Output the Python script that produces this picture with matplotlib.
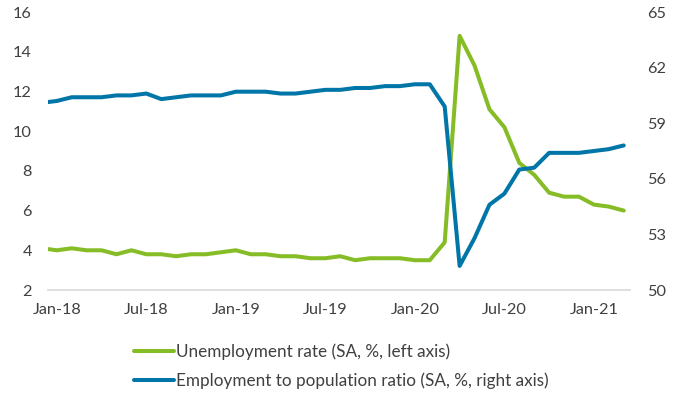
import matplotlib
matplotlib.use("Agg")
import matplotlib.pyplot as plt

months = ["Dec-17",
          "Jan-18", "Feb-18", "Mar-18", "Apr-18", "May-18", "Jun-18", "Jul-18", "Aug-18", "Sep-18", "Oct-18", "Nov-18", "Dec-18",
          "Jan-19", "Feb-19", "Mar-19", "Apr-19", "May-19", "Jun-19", "Jul-19", "Aug-19", "Sep-19", "Oct-19", "Nov-19", "Dec-19",
          "Jan-20", "Feb-20", "Mar-20", "Apr-20", "May-20", "Jun-20", "Jul-20", "Aug-20", "Sep-20", "Oct-20", "Nov-20", "Dec-20",
          "Jan-21", "Feb-21", "Mar-21"]

unemployment = [4.1,
                4.0, 4.1, 4.0, 4.0, 3.8, 4.0, 3.8, 3.8, 3.7, 3.8, 3.8, 3.9,
                4.0, 3.8, 3.8, 3.7, 3.7, 3.6, 3.6, 3.7, 3.5, 3.6, 3.6, 3.6,
                3.5, 3.5, 4.4, 14.8, 13.3, 11.1, 10.2, 8.4, 7.8, 6.9, 6.7, 6.7,
                6.3, 6.2, 6.0]

emp_pop = [60.1,
           60.2, 60.4, 60.4, 60.4, 60.5, 60.5, 60.6, 60.3, 60.4, 60.5, 60.5, 60.5,
           60.7, 60.7, 60.7, 60.6, 60.6, 60.7, 60.8, 60.8, 60.9, 60.9, 61.0, 61.0,
           61.1, 61.1, 59.9, 51.3, 52.8, 54.6, 55.2, 56.5, 56.6, 57.4, 57.4, 57.4,
           57.5, 57.6, 57.8]

tick_labels = ["Jan-18", "Jul-18", "Jan-19", "Jul-19", "Jan-20", "Jul-20", "Jan-21"]
left_ticks = [2, 4, 6, 8, 10, 12, 14, 16]
right_ticks = [50, 53, 56, 59, 62, 65]

label_unemp = "Unemployment rate (SA, %, left axis)"
label_emp = "Employment to population ratio (SA, %, right axis)"

GREEN = "#86BC25"
BLUE = "#0076A8"
TEXT = "#404040"
FONT = "Lato"
FS = 11.7
LFS = 12.3

plt.rcParams["font.family"] = [FONT, "DejaVu Sans"]

W, H = 684, 395
fig = plt.figure(figsize=(W / 100, H / 100), dpi=100)
ax = fig.add_axes([48 / W, 1 - 290 / H, (630 - 48) / W, (290 - 12) / H])
ax2 = ax.twinx()

x = list(range(-1, len(months) - 1))  # Jan-18 -> 0

l1, = ax.plot(x, unemployment, color=GREEN, lw=2.9, solid_capstyle="round",
              solid_joinstyle="round", label=label_unemp, zorder=3)
l2, = ax2.plot(x, emp_pop, color=BLUE, lw=2.9, solid_capstyle="round",
               solid_joinstyle="round", label=label_emp, zorder=3)

ax.set_xlim(-0.59, 38.42)
ax.set_ylim(2, 16)
ax2.set_ylim(50, 65)

tick_pos = [months.index(t) - 1 for t in tick_labels]
ax.set_xticks(tick_pos)
ax.set_xticklabels(tick_labels)
ax.set_yticks(left_ticks)
ax2.set_yticks(right_ticks)

for a in (ax, ax2):
    for s in a.spines.values():
        s.set_visible(False)
    a.tick_params(length=0, labelsize=FS, labelcolor=TEXT)
ax.spines["bottom"].set_visible(True)
ax.spines["bottom"].set_color("#D9D9D9")
ax.spines["bottom"].set_linewidth(1.2)
ax.tick_params(axis="y", pad=11.5)
ax.tick_params(axis="x", pad=9)
ax2.tick_params(axis="y", pad=12)

leg = fig.legend(handles=[l1, l2], loc="upper left", bbox_to_anchor=(134 / W, 1 - 343 / H),
                 frameon=False, fontsize=LFS, handlelength=2.35, handletextpad=0.12,
                 labelspacing=0.78, borderpad=0, borderaxespad=0)
for t in leg.get_texts():
    t.set_color(TEXT)

fig.savefig("out.png", dpi=100)
